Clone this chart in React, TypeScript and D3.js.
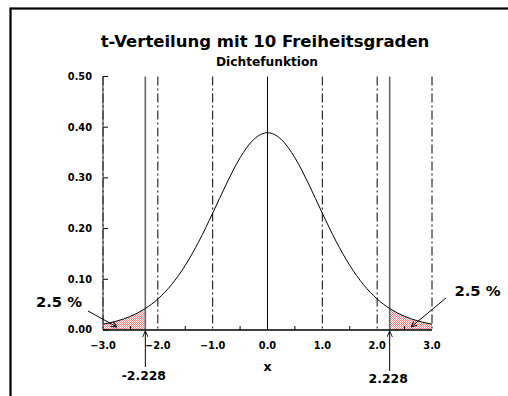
import React from "react";
import * as d3 from "d3";

const xs = [-3.0, -2.75, -2.5, -2.25, -2.228, -2.0, -1.75, -1.5, -1.25, -1.0, -0.75, -0.5, -0.25, 0.0, 0.25, 0.5, 0.75, 1.0, 1.25, 1.5, 1.75, 2.0, 2.228, 2.25, 2.5, 2.75, 3.0];
const density = [0.0114, 0.0176, 0.0269, 0.0409, 0.0424, 0.0611, 0.0895, 0.1274, 0.1751, 0.2304, 0.288, 0.3397, 0.376, 0.3891, 0.376, 0.3397, 0.288, 0.2304, 0.1751, 0.1274, 0.0895, 0.0611, 0.0424, 0.0409, 0.0269, 0.0176, 0.0114];
const yTicks = [0.0, 0.1, 0.2, 0.3, 0.4, 0.5];
const xTicks = [-3, -2, -1, 0, 1, 2, 3];
const minorTicks = [-2.5, -1.5, -0.5, 0.5, 1.5, 2.5];
const dashLines = [-3, -2, -1, 1, 2, 3];
const critical = [-2.228, 2.228];
const critLabels = ["-2.228", "2.228"];
const title = "t-Verteilung mit 10 Freiheitsgraden";
const subtitle = "Dichtefunktion";
const tailLabel = "2.5 %";
const xLabel = "x";

const FONT = "'DejaVu Sans', sans-serif";

export default function App() {
  const x = d3.scaleLinear().domain([-3, 3]).range([103, 432]);
  const y = d3.scaleLinear().domain([0, 0.5]).range([330, 76.5]);
  const pts = xs.map((v, i) => ({ x: v, y: density[i] }));
  const line = d3.line<any>().x(d => x(d.x)).y(d => y(d.y)).curve(d3.curveMonotoneX);
  const area = d3.area<any>().x(d => x(d.x)).y0(y(0)).y1(d => y(d.y)).curve(d3.curveMonotoneX);
  const leftTail = pts.filter(p => p.x <= critical[0] + 1e-9);
  const rightTail = pts.filter(p => p.x >= critical[1] - 1e-9);
  const fmt = d3.format(".2f");
  const fmt1 = d3.format(".1f");
  const y0 = y(0);

  return (
    <svg width={508} height={396} style={{ position: "fixed", left: 0, top: 0, background: "#fff" }}>
      <defs>
        <pattern id="chk" width="2" height="2" patternUnits="userSpaceOnUse">
          <rect width="2" height="2" fill="#ffffff" />
          <rect width="1" height="1" fill="#f08a8a" />
          <rect x="1" y="1" width="1" height="1" fill="#f08a8a" />
        </pattern>
        <marker id="arr" viewBox="0 0 10 10" refX="10" refY="5" markerWidth="6" markerHeight="6" orient="auto" markerUnits="userSpaceOnUse">
          <path d="M0,0.5 L10,5 L0,9.5" fill="none" stroke="#000" strokeWidth={1.5} />
        </marker>
      </defs>
      <rect x={10.5} y={8.5} width={520} height={420} fill="none" stroke="#000" strokeWidth={2.2} />

      <text x={265} y={47} textAnchor="middle" fontFamily={FONT} fontWeight="bold" fontSize={16.5}>{title}</text>
      <text x={267} y={66} textAnchor="middle" fontFamily={FONT} fontWeight="bold" fontSize={12.2}>{subtitle}</text>

      <path d={area(leftTail) || ""} fill="url(#chk)" />
      <path d={area(rightTail) || ""} fill="url(#chk)" />

      {dashLines.map(v => (
        <line key={"d" + v} x1={x(v)} x2={x(v)} y1={y(0.5)} y2={y0} stroke="#000" strokeWidth={1} strokeDasharray="9,3,2,3" />
      ))}
      <line x1={x(0)} x2={x(0)} y1={y(0.5)} y2={y0} stroke="#000" strokeWidth={1} />
      {critical.map(v => (
        <line key={"c" + v} x1={x(v)} x2={x(v)} y1={y(0.5)} y2={y0} stroke="#666" strokeWidth={1.6} />
      ))}

      <line x1={x(-3)} x2={x(-3)} y1={y(0.5)} y2={y0} stroke="#333" strokeWidth={1} />
      {yTicks.map(t => (
        <g key={"y" + t}>
          <line x1={x(-3)} x2={x(-3) + 5} y1={y(t)} y2={y(t)} stroke="#000" strokeWidth={1} />
          <text x={92} y={y(t)} dy="0.35em" textAnchor="end" fontFamily={FONT} fontWeight="bold" fontSize={9.8}>{fmt(t)}</text>
        </g>
      ))}

      <line x1={x(-3)} x2={x(3)} y1={y0} y2={y0} stroke="#000" strokeWidth={1.5} />
      {minorTicks.map(t => (
        <line key={"m" + t} x1={x(t)} x2={x(t)} y1={y0} y2={y0 - 4} stroke="#000" strokeWidth={1} />
      ))}
      {xTicks.map(t => (
        <text key={"x" + t} x={x(t)} y={349} textAnchor="middle" fontFamily={FONT} fontWeight="bold" fontSize={9.8}>{fmt1(t)}</text>
      ))}
      <text x={x(0)} y={371} textAnchor="middle" fontFamily={FONT} fontWeight="bold" fontSize={12.5}>{xLabel}</text>

      <path d={line(pts) || ""} fill="none" stroke="#000" strokeWidth={1} />

      <line x1={x(critical[0])} x2={x(critical[0])} y1={367} y2={331} stroke="#000" strokeWidth={1} markerEnd="url(#arr)" />
      <line x1={x(critical[1])} x2={x(critical[1])} y1={371} y2={331} stroke="#000" strokeWidth={1} markerEnd="url(#arr)" />
      <text x={x(critical[0]) - 1.5} y={380} textAnchor="middle" fontFamily={FONT} fontWeight="bold" fontSize={12.4}>{critLabels[0]}</text>
      <text x={x(critical[1]) - 1.5} y={382.5} textAnchor="middle" fontFamily={FONT} fontWeight="bold" fontSize={12.4}>{critLabels[1]}</text>

      <line x1={88} y1={311} x2={117} y2={327} stroke="#000" strokeWidth={1} markerEnd="url(#arr)" />
      <line x1={446} y1={298} x2={411} y2={327} stroke="#000" strokeWidth={1} markerEnd="url(#arr)" />
      <text x={59} y={306.5} textAnchor="middle" fontFamily={FONT} fontWeight="bold" fontSize={14.8}>{tailLabel}</text>
      <text x={477.5} y={296} textAnchor="middle" fontFamily={FONT} fontWeight="bold" fontSize={14.8}>{tailLabel}</text>
    </svg>
  );
}
